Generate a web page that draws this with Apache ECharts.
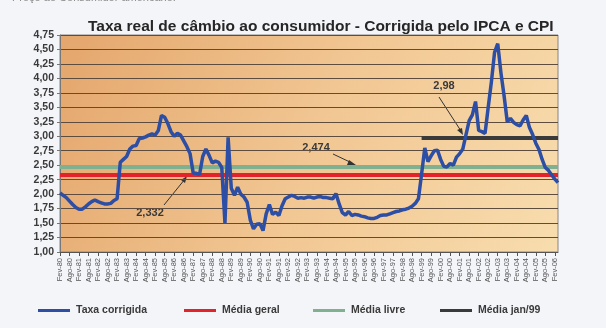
<!DOCTYPE html>
<html><head><meta charset="utf-8">
<script src="https://cdn.jsdelivr.net/npm/echarts@6/dist/echarts.min.js"></script>
<style>html,body{margin:0;padding:0;background:#f4f5f9;}#c{width:606px;height:328px;}</style>
</head><body><div id="c"></div>
<script>
// Bimonthly categories Fev-80 ... Abr-06
const monthNames = ['Fev','Abr','Jun','Ago','Out','Dez'];
const categories = [];
for (let y = 1980; y <= 2006; y++) for (const mn of monthNames) categories.push(mn + '-' + String(y % 100).padStart(2, '0'));
categories.length = 158;

// Taxa corrigida, one row per year (Fev, Abr, Jun, Ago, Out, Dez)
const taxaCorrigida = [
  2.02,1.98,1.94,1.88,1.82,1.77, // 1980
  1.74,1.74,1.78,1.83,1.87,1.90, // 1981
  1.87,1.85,1.83,1.83,1.84,1.89, // 1982
  1.92,2.55,2.60,2.65,2.78,2.83, // 1983
  2.84,2.96,2.97,2.99,3.02,3.04, // 1984
  3.02,3.10,3.36,3.33,3.22,3.08, // 1985
  3.00,3.05,3.02,2.92,2.82,2.70, // 1986
  2.36,2.36,2.34,2.65,2.78,2.67, // 1987
  2.54,2.57,2.55,2.46,1.50,2.98, // 1988
  2.10,1.98,2.12,2.00,1.95,1.86, // 1989
  1.55,1.40,1.48,1.49,1.37,1.66, // 1990
  1.82,1.65,1.69,1.63,1.80,1.92, // 1991
  1.95,1.98,1.96,1.93,1.94,1.93, // 1992
  1.95,1.95,1.93,1.95,1.96,1.94, // 1993
  1.94,1.93,1.92,2.01,1.83,1.68, // 1994
  1.64,1.70,1.63,1.65,1.64,1.62, // 1995
  1.61,1.59,1.58,1.58,1.60,1.63, // 1996
  1.64,1.64,1.66,1.68,1.70,1.71, // 1997
  1.73,1.74,1.76,1.79,1.84,1.92, // 1998
  2.35,2.80,2.56,2.66,2.75,2.76, // 1999
  2.60,2.48,2.47,2.53,2.50,2.64, // 2000
  2.70,2.78,3.03,3.27,3.37,3.60, // 2001
  3.10,3.08,3.05,3.50,3.94,4.45, // 2002
  4.60,4.10,3.70,3.25,3.31,3.24, // 2003
  3.20,3.18,3.28,3.36,3.15,3.03, // 2004
  2.88,2.77,2.60,2.46,2.41,2.33, // 2005
  2.26,2.20                      // 2006
];

const mediaGeral = 2.332;
const mediaLivre = 2.474;
const mediaJan99 = 2.98;
const jan99Start = 'Fev-99';

const yMin = 1.00, yMax = 4.75, yStep = 0.25;
const seriesNames = ['Taxa corrigida','Média geral','Média livre','Média jan/99'];
const colors = ['#2c4ea4','#e3232c','#7fb08f','#3a3a3a'];

const chart = echarts.init(document.getElementById('c'), null, {renderer:'canvas'});
const legendBase = {
  orient:'horizontal', top: 305, itemWidth: 32, itemHeight: 3, icon:'rect', padding:0,
  textStyle:{fontFamily:'Liberation Sans', fontWeight:'bold', fontSize:10.5, color:'#3a3a3a', padding:[0,0,0,1]},
  selectedMode:false
};
const legendLefts = [38, 184, 313, 440];

chart.setOption({
  animation:false,
  backgroundColor:'#f4f5f9',
  title:{
    text:'Taxa real de câmbio ao consumidor - Corrigida pelo IPCA e CPI',
    left: 83, top: 14,
    textStyle:{fontFamily:'Liberation Sans', fontWeight:'bold', fontSize:15.5, color:'#262626'}
  },
  legend: seriesNames.map((n,i)=>Object.assign({}, legendBase, {left: legendLefts[i], data:[n]})),
  grid:{
    left:60, right:48, top:35, bottom:76, show:true,
    backgroundColor: new echarts.graphic.LinearGradient(0,0,1,1,[
      {offset:0, color:'#e4a66c'},{offset:0.5, color:'#f1c692'},{offset:1, color:'#f8ddae'}]),
    borderColor:'#8a8580', borderWidth:1
  },
  xAxis:{
    type:'category', data:categories, boundaryGap:false,
    axisLine:{lineStyle:{color:'#555', width:1}},
    axisTick:{show:true, interval:2, length:4, lineStyle:{color:'#555'}},
    axisLabel:{interval:2, rotate:90, fontSize:7.5, color:'#555', margin:6, fontFamily:'Liberation Sans'},
    splitLine:{show:false}
  },
  yAxis:{
    type:'value', min:yMin, max:yMax, interval:yStep,
    axisLine:{show:true, lineStyle:{color:'#777'}},
    axisTick:{show:true, length:3, lineStyle:{color:'#777'}},
    axisLabel:{fontSize:10.5, fontWeight:'bold', color:'#3a3a3a', margin:6, fontFamily:'Liberation Sans',
      formatter:v=>v.toFixed(2).replace('.',',')},
    splitLine:{show:true, lineStyle:{color:'#5e4d3e', width:1}}
  },
  series:[
    {name:seriesNames[0], type:'line', data:taxaCorrigida, showSymbol:false, z:5,
     color:colors[0], lineStyle:{color:colors[0], width:3.5}},
    {name:seriesNames[1], type:'line', data:[], color:colors[1], z:3,
     markLine:{silent:true, symbol:'none', label:{show:false}, lineStyle:{color:colors[1], width:4, type:'solid'},
       data:[{yAxis:mediaGeral}]}},
    {name:seriesNames[2], type:'line', data:[], color:colors[2], z:3,
     markLine:{silent:true, symbol:'none', label:{show:false}, lineStyle:{color:colors[2], width:4, type:'solid'},
       data:[{yAxis:mediaLivre}]}},
    {name:seriesNames[3], type:'line', data:[], color:colors[3], z:4,
     markLine:{silent:true, symbol:'none', label:{show:false}, lineStyle:{color:colors[3], width:4, type:'solid'},
       data:[[{coord:[jan99Start, mediaJan99]},{coord:[categories[categories.length-1], mediaJan99]}]]}}
  ],
  graphic:[
    {type:'text', left:12, top:-8, style:{text:'Preço ao Consumidor americano.', fontSize:11, fill:'#8a8a8a', fontFamily:'Liberation Sans'}},
    {type:'text', x:150, y:213, style:{text:'2,332', fontSize:11, fontWeight:'bold', fill:'#3a3a3a', align:'center', verticalAlign:'middle', fontFamily:'Liberation Sans'}},
    {type:'line', shape:{x1:164, y1:205, x2:185, y2:179}, style:{stroke:'#333', lineWidth:1}},
    {type:'polygon', shape:{points:[[187,176],[181,180],[185,183]]}, style:{fill:'#333'}},
    {type:'text', x:316, y:148, style:{text:'2,474', fontSize:11, fontWeight:'bold', fill:'#3a3a3a', align:'center', verticalAlign:'middle', fontFamily:'Liberation Sans'}},
    {type:'line', shape:{x1:333, y1:154, x2:352, y2:163}, style:{stroke:'#333', lineWidth:1}},
    {type:'polygon', shape:{points:[[356,165],[349,160],[347,165]]}, style:{fill:'#333'}},
    {type:'text', x:444, y:86, style:{text:'2,98', fontSize:11, fontWeight:'bold', fill:'#3a3a3a', align:'center', verticalAlign:'middle', fontFamily:'Liberation Sans'}},
    {type:'line', shape:{x1:439, y1:97, x2:461, y2:131}, style:{stroke:'#333', lineWidth:1}},
    {type:'polygon', shape:{points:[[463,135],[457,130],[462,128]]}, style:{fill:'#333'}}
  ]
});
</script></body></html>
